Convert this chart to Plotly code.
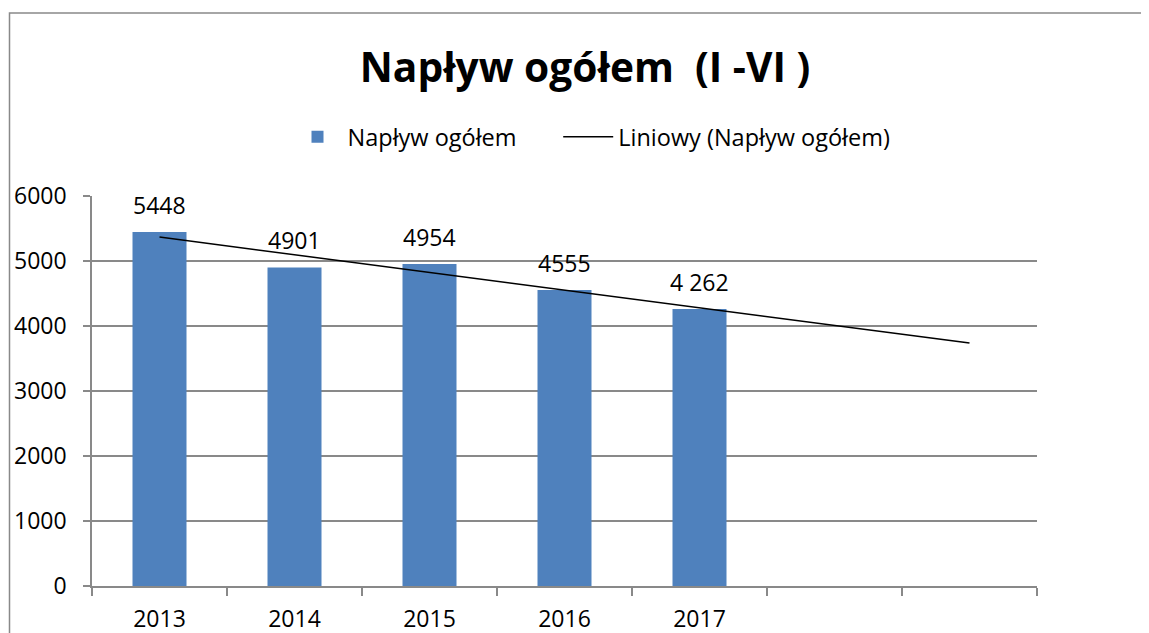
import plotly.graph_objects as go

categories = ["2013", "2014", "2015", "2016", "2017", " ", "  "]
bar_years = ["2013", "2014", "2015", "2016", "2017"]
values = [5448, 4901, 4954, 4555, 4262]
value_labels = ["5448", "4901", "4954", "4555", "4 262"]
trend_x = ["2013", "  "]
trend_y = [5368, 3737]
y_ticks = [0, 1000, 2000, 3000, 4000, 5000, 6000]

FONT = "Open Sans"
GRID = "#898989"
W, H = 1141, 625
L, R, T, B = 84, 112, 188, 47
PH = H - T - B
PW = W - L - R

fig = go.Figure()
fig.add_trace(go.Bar(
    x=bar_years, y=values, name="Napływ ogółem" + "\u00a0" * 6,
    marker=dict(color="#4F81BD", line=dict(width=0)),
    width=0.4,
))
fig.add_trace(go.Scatter(
    x=trend_x, y=trend_y, mode="lines", name="Liniowy (Napływ ogółem)",
    line=dict(color="black", width=1.5),
))

for i, (yv, lab) in enumerate(zip(values, value_labels)):
    fig.add_annotation(x=categories.index(bar_years[i]), y=yv, xref="x", yref="y",
                       text=lab, showarrow=False, yanchor="bottom",
                       yshift=9, font=dict(family=FONT, size=23, color="black"))

fig.update_layout(
    width=W, height=H,
    paper_bgcolor="white", plot_bgcolor="white",
    margin=dict(l=L, r=R, t=T, b=B, autoexpand=False),
    title=dict(text="<b>Napływ ogółem  (I -VI )</b>", x=(585 - 8) / W, xanchor="center",
               y=1 - 60 / H, yanchor="middle",
               font=dict(family=FONT, size=40.7, color="black")),
    legend=dict(orientation="h", x=(583.5 - L) / PW, xanchor="center", y=1 + (T - 129) / PH,
                yanchor="middle",
                font=dict(family=FONT, size=23.5, color="black"),
                itemwidth=50, traceorder="normal"),
    showlegend=True,
    xaxis=dict(type="category", categoryorder="array", categoryarray=categories,
               range=[-0.5, 6.5], automargin=False,
               tickson="boundaries", ticks="outside", ticklen=8, tickcolor=GRID, tickwidth=1.5,
               showline=True, linecolor=GRID, linewidth=1.5,
               showgrid=False, ticklabelstandoff=12,
               tickfont=dict(family=FONT, size=23, color="black")),
    yaxis=dict(range=[0, 6000], tickvals=y_ticks, ticks="outside", ticklen=7,
               tickcolor=GRID, tickwidth=1.5, automargin=False,
               showline=True, linecolor=GRID, linewidth=1.5,
               showgrid=True, gridcolor=GRID, gridwidth=1.5, zeroline=False,
               ticklabelstandoff=12,
               tickfont=dict(family=FONT, size=23, color="black")),
)

fig.add_shape(type="rect", xref="paper", yref="paper",
              x0=(1.5 - L) / PW, x1=(1200 - L) / PW,
              y0=(H - B - 700) / PH, y1=(H - B - 5) / PH,
              line=dict(color=GRID, width=1.5), fillcolor="rgba(0,0,0,0)", layer="below")

fig.write_html("out.html")
